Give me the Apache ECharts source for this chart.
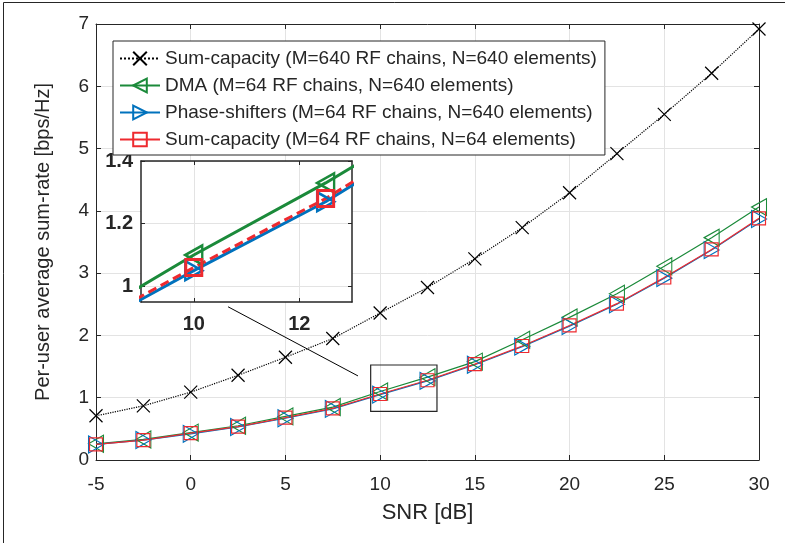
<!DOCTYPE html>
<html>
<head>
<meta charset="utf-8">
<script src="https://cdn.jsdelivr.net/npm/echarts@6/dist/echarts.min.js"></script>
<style>
html, body { margin: 0; padding: 0; background: #fff; }
#main { width: 785px; height: 543px; }
</style>
</head>
<body>
<div id="main"></div>
<script>
// SNR points (dB)
var snr = [-5, -2.5, 0, 2.5, 5, 7.5, 10, 12.5, 15, 17.5, 20, 22.5, 25, 27.5, 30];
// per-user average sum-rate [bps/Hz]
var capFull  = [0.71, 0.87, 1.09, 1.36, 1.65, 1.95, 2.36, 2.77, 3.23, 3.73, 4.29, 4.92, 5.55, 6.21, 6.92];
var dma      = [0.26, 0.33, 0.44, 0.55, 0.70, 0.85, 1.10, 1.33, 1.58, 1.93, 2.29, 2.67, 3.11, 3.57, 4.06];
var phase    = [0.25, 0.32, 0.42, 0.53, 0.67, 0.82, 1.05, 1.27, 1.53, 1.82, 2.15, 2.50, 2.92, 3.37, 3.87];
var capSmall = [0.25, 0.32, 0.43, 0.535, 0.68, 0.83, 1.06, 1.28, 1.54, 1.83, 2.16, 2.51, 2.93, 3.38, 3.88];

var names = [
    'Sum-capacity (M=640 RF chains, N=640 elements)',
    'DMA (M=64 RF chains, N=640 elements)',
    'Phase-shifters (M=64 RF chains, N=640 elements)',
    'Sum-capacity (M=64 RF chains, N=64 elements)'
];

var xTicksInset = [10, 12];
var yTicksInset = [1, 1.2, 1.4];

// zoom box and connector line, in main axis units
var zoomBox = [[9.5, 0.78], [13, 1.525]];
var connector = [[1.97, 2.46], [8.83, 1.35]];

var cBlack = '#000000';
var cGreen = '#1b8a3a';
var cBlue = '#0072bd';
var cRed = '#ee2a2f';
var axisColor = '#262626';
var gridColor = '#e3e3e3';
var font = '"Liberation Sans", Arial, Helvetica, sans-serif';

var symCross = 'path://M0,0L10,10M0,10L10,0';
var symLeft = 'path://M0,5L9,0L9,10Z';
var symRight = 'path://M9,5L0,0L0,10Z';

function pairs(vals) {
    return snr.map(function (x, i) { return [x, vals[i]]; });
}

function line(name, vals, color, symbol, size, opts) {
    return {
        name: name,
        type: 'line',
        xAxisIndex: opts.inset ? 2 : 0,
        yAxisIndex: opts.inset ? 2 : 0,
        data: pairs(vals),
        symbol: symbol,
        symbolSize: size,
        showAllSymbol: true,
        clip: true,
        z: opts.inset ? 12 : 2,
        lineStyle: { color: color, width: opts.width, type: opts.type || 'solid' },
        itemStyle: { color: 'transparent', borderColor: color, borderWidth: opts.bw },
        emphasis: { disabled: true },
        silent: true,
        animation: false
    };
}

var main = line(names[0], capFull, cBlack, symCross, 13, { width: 1.2, bw: 1.2, type: 'dotted' });
main.markArea = {
    silent: true,
    itemStyle: { color: 'transparent', borderColor: axisColor, borderWidth: 1.2 },
    data: [[{ coord: zoomBox[0] }, { coord: zoomBox[1] }]]
};
main.markLine = {
    silent: true,
    symbol: ['none', 'none'],
    label: { show: false },
    lineStyle: { color: '#000', width: 1, type: 'solid' },
    data: [[{ coord: connector[0] }, { coord: connector[1] }]],
    animation: false
};

var series = [
    main,
    line(names[1], dma, cGreen, symLeft, [15, 17], { width: 1.2, bw: 1.1 }),
    line(names[2], phase, cBlue, symRight, [15, 17], { width: 1.2, bw: 1.1 }),
    line(names[3], capSmall, cRed, 'rect', 13, { width: 1.2, bw: 1.2 }),
    line(names[1], dma, cGreen, symLeft, [17, 19], { width: 3, bw: 2.5, inset: true }),
    line(names[2], phase, cBlue, symRight, [17, 19], { width: 3, bw: 2.5, inset: true }),
    line(names[3], capSmall, cRed, 'rect', 16, { width: 3, bw: 3, type: [9, 5], inset: true })
];

function tickAxis(base) {
    return Object.assign({
        axisLine: { show: true, onZero: false, lineStyle: { color: axisColor, width: 1 } },
        axisTick: { show: true, inside: true, length: 5, lineStyle: { color: axisColor } },
        axisLabel: { show: false },
        splitLine: { show: false }
    }, base);
}

var chart = echarts.init(document.getElementById('main'));
chart.setOption({
    animation: false,
    backgroundColor: '#fff',
    textStyle: { fontFamily: font },
    graphic: [{
        type: 'polyline',
        shape: { points: [[3.5, 600], [3.5, 2.5], [800, 2.5]] },
        style: { stroke: axisColor, fill: 'none', lineWidth: 1 },
        silent: true
    }],
    legend: {
        data: names,
        orient: 'vertical',
        left: 113,
        top: 41,
        padding: [8, 8, 6, 6],
        itemGap: 8,
        itemWidth: 40,
        itemHeight: 17,
        selectedMode: false,
        backgroundColor: '#fff',
        borderColor: axisColor,
        borderWidth: 1,
        borderRadius: 0,
        textStyle: { fontSize: 19, color: axisColor, fontFamily: font },
        z: 20
    },
    grid: [
        { left: 96, top: 24, right: 26, bottom: 83, show: false },
        { left: 141, top: 161, width: 211, height: 141, show: true, backgroundColor: '#fff', borderWidth: 0, z: 10 }
    ],
    xAxis: [
        {
            type: 'value', gridIndex: 0, min: -5, max: 30, interval: 5,
            name: 'SNR [dB]', nameLocation: 'middle', nameGap: 42,
            nameTextStyle: { fontSize: 22, color: axisColor, fontFamily: font },
            axisLine: { onZero: false, lineStyle: { color: axisColor, width: 1 } },
            axisTick: { inside: true, length: 5, lineStyle: { color: axisColor } },
            axisLabel: { fontSize: 19, color: axisColor, margin: 15, fontFamily: font },
            splitLine: { show: true, lineStyle: { color: gridColor, width: 1 } }
        },
        tickAxis({ type: 'value', gridIndex: 0, position: 'top', min: -5, max: 30, interval: 5 }),
        {
            type: 'value', gridIndex: 1, min: 9, max: 13, z: 11,
            axisLine: { onZero: false, lineStyle: { color: axisColor, width: 1.5 } },
            axisTick: { inside: true, length: 4, customValues: xTicksInset, lineStyle: { color: axisColor } },
            axisLabel: { customValues: xTicksInset, fontSize: 20, fontWeight: 'bold', color: axisColor, margin: 12, fontFamily: font },
            splitLine: { show: true, lineStyle: { color: gridColor, width: 1 } }
        },
        tickAxis({ type: 'value', gridIndex: 1, position: 'top', min: 9, max: 13, z: 11,
            axisLine: { show: true, onZero: false, lineStyle: { color: axisColor, width: 1.5 } },
            axisTick: { show: true, inside: true, length: 4, customValues: xTicksInset, lineStyle: { color: axisColor } } })
    ],
    yAxis: [
        {
            type: 'value', gridIndex: 0, min: 0, max: 7, interval: 1,
            name: 'Per-user average sum-rate [bps/Hz]', nameLocation: 'middle', nameGap: 43,
            nameTextStyle: { fontSize: 20, color: axisColor, fontFamily: font },
            axisLine: { show: true, onZero: false, lineStyle: { color: axisColor, width: 1 } },
            axisTick: { show: true, inside: true, length: 5, lineStyle: { color: axisColor } },
            axisLabel: { fontSize: 19, color: axisColor, margin: 7, fontFamily: font },
            splitLine: { show: true, lineStyle: { color: gridColor, width: 1 } }
        },
        tickAxis({ type: 'value', gridIndex: 0, position: 'right', min: 0, max: 7, interval: 1 }),
        {
            type: 'value', gridIndex: 1, min: 0.95, max: 1.4, z: 11,
            axisLine: { show: true, onZero: false, lineStyle: { color: axisColor, width: 1.5 } },
            axisTick: { show: true, inside: true, length: 4, customValues: yTicksInset, lineStyle: { color: axisColor } },
            axisLabel: { customValues: yTicksInset, fontSize: 20, fontWeight: 'bold', color: axisColor, margin: 8, fontFamily: font },
            splitLine: { show: true, lineStyle: { color: gridColor, width: 1 } }
        },
        tickAxis({ type: 'value', gridIndex: 1, position: 'right', min: 0.95, max: 1.4, z: 11,
            axisLine: { show: true, onZero: false, lineStyle: { color: axisColor, width: 1.5 } },
            axisTick: { show: true, inside: true, length: 4, customValues: yTicksInset, lineStyle: { color: axisColor } } })
    ],
    series: series
});
</script>
</body>
</html>
